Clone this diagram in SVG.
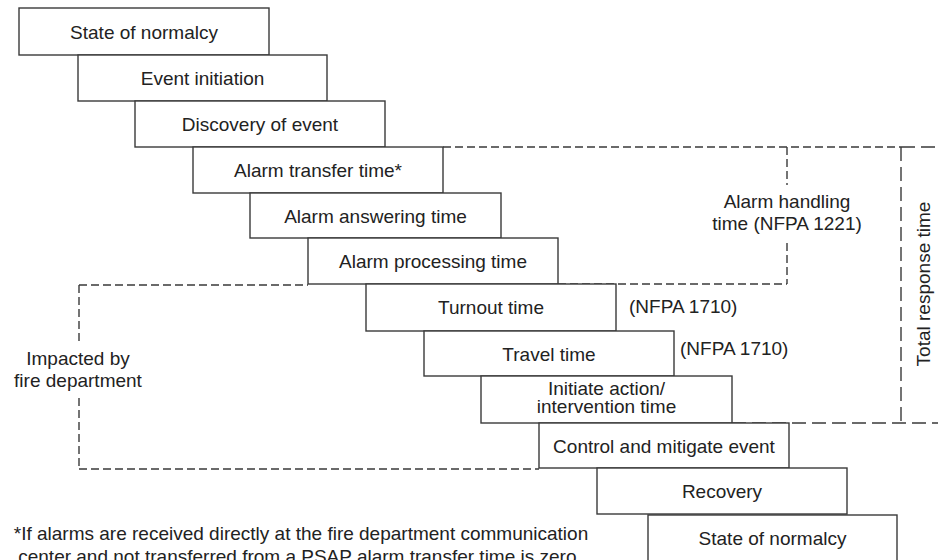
<svg xmlns="http://www.w3.org/2000/svg" width="938" height="560" viewBox="0 0 938 560">
<style>
.box{fill:#fff;stroke:#3a3a3a;stroke-width:1.4}
.t{font-family:"Liberation Sans",Arial,sans-serif;font-size:19px;fill:#222;text-anchor:middle}
.ts{font-family:"Liberation Sans",Arial,sans-serif;font-size:19px;fill:#222;text-anchor:start}
.d{fill:none;stroke:#3a3a3a;stroke-width:1.4;stroke-dasharray:8 4}
.dl{fill:none;stroke:#3a3a3a;stroke-width:1.4;stroke-dasharray:14 6}
</style>
<rect width="938" height="560" fill="#fff"/>
<g id="connectors">
<line class="d" x1="443" y1="147" x2="901" y2="147"/>
<line class="dl" x1="901" y1="147" x2="938" y2="147"/>
<line class="d" x1="787" y1="147" x2="787" y2="185"/>
<line class="d" x1="787" y1="243" x2="787" y2="284"/>
<line class="d" x1="558" y1="284" x2="787" y2="284"/>
<line class="dl" x1="901" y1="147" x2="901" y2="423"/>
<line class="dl" x1="732" y1="423" x2="938" y2="423"/>
<line class="d" x1="79" y1="285" x2="308" y2="285"/>
<line class="d" x1="79" y1="285" x2="79" y2="344"/>
<line class="d" x1="79" y1="398" x2="79" y2="469"/>
<line class="d" x1="79" y1="469" x2="539" y2="469"/>
</g>
<g id="n1"><rect class="box" x="19" y="8" width="250" height="47"/><text class="t" x="144" y="39">State of normalcy</text></g>
<g id="n2"><rect class="box" x="78" y="55" width="249" height="46"/><text class="t" x="202.5" y="85">Event initiation</text></g>
<g id="n3"><rect class="box" x="135" y="101" width="250" height="46"/><text class="t" x="260" y="131">Discovery of event</text></g>
<g id="n4"><rect class="box" x="193" y="147" width="250" height="46"/><text class="t" x="318" y="177">Alarm transfer time*</text></g>
<g id="n5"><rect class="box" x="250" y="193" width="251" height="45"/><text class="t" x="375.5" y="223">Alarm answering time</text></g>
<g id="n6"><rect class="box" x="308" y="238" width="250" height="46"/><text class="t" x="433" y="268">Alarm processing time</text></g>
<g id="n7"><rect class="box" x="366" y="284" width="250" height="47"/><text class="t" x="491" y="314">Turnout time</text></g>
<g id="n8"><rect class="box" x="424" y="331" width="250" height="45"/><text class="t" x="549" y="361">Travel time</text></g>
<g id="n9"><rect class="box" x="481" y="376" width="251" height="47"/><text class="t" x="606.5" y="395">Initiate action/</text><text class="t" x="606.5" y="413">intervention time</text></g>
<g id="n10"><rect class="box" x="539" y="423" width="250" height="45"/><text class="t" x="664" y="453">Control and mitigate event</text></g>
<g id="n11"><rect class="box" x="597" y="468" width="250" height="46"/><text class="t" x="722" y="498">Recovery</text></g>
<g id="n12"><rect class="box" x="648" y="515" width="249" height="55"/><text class="t" x="772.5" y="545">State of normalcy</text></g>
<g id="labels">
<text class="t" x="787" y="208">Alarm handling</text>
<text class="t" x="787" y="230">time (NFPA 1221)</text>
<text class="t" transform="translate(930,284) rotate(-90)">Total response time</text>
<text class="ts" x="629" y="313">(NFPA 1710)</text>
<text class="ts" x="680" y="355">(NFPA 1710)</text>
<text class="t" x="78" y="365">Impacted by</text>
<text class="t" x="78" y="387">fire department</text>
<text class="t" x="301" y="540">*If alarms are received directly at the fire department communication</text>
<text class="t" x="300" y="563">center and not transferred from a PSAP alarm transfer time is zero.</text>
</g>
</svg>
